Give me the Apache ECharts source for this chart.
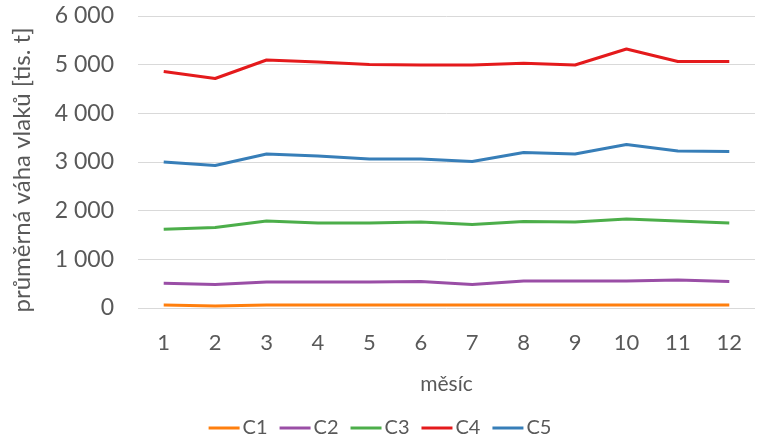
<!DOCTYPE html>
<html>
<head>
<meta charset="utf-8">
<script src="https://cdn.jsdelivr.net/npm/echarts@6/dist/echarts.min.js"></script>
<style>
  html, body { margin: 0; padding: 0; background: #fff; }
  #chart { width: 760px; height: 440px; }
</style>
</head>
<body>
<div id="chart"></div>
<script>
const months = ['1', '2', '3', '4', '5', '6', '7', '8', '9', '10', '11', '12'];
const c1 = [62, 41, 60, 60, 60, 60, 60, 60, 60, 60, 62, 62];
const c2 = [507, 483, 534, 534, 534, 545, 483, 555, 555, 555, 575, 545];
const c3 = [1620, 1654, 1788, 1746, 1746, 1767, 1716, 1777, 1767, 1829, 1788, 1746];
const c4 = [4860, 4716, 5096, 5055, 5003, 4993, 4993, 5027, 4993, 5322, 5065, 5065];
const c5 = [3000, 2928, 3164, 3123, 3062, 3062, 3010, 3195, 3164, 3359, 3226, 3215];

const font = 'Lato, "Open Sans", sans-serif';
const textColor = '#595959';

const chart = echarts.init(document.getElementById('chart'));

function line(name, data, color) {
  return {
    name: name,
    type: 'line',
    data: data,
    symbol: 'none',
    lineStyle: { width: 3, color: color },
    itemStyle: { color: color }
  };
}

const option = {
  animation: false,
  textStyle: { fontFamily: font },
  grid: { left: 138, right: 5, top: 16, bottom: 132 },
  legend: {
    bottom: -3,
    left: 'center',
    itemWidth: 31,
    itemHeight: 3,
    itemGap: 12,
    icon: 'rect',
    textStyle: { fontSize: 20, color: textColor, fontFamily: font, padding: [0, 0, 0, -2] },
    data: ['C1', 'C2', 'C3', 'C4', 'C5']
  },
  xAxis: {
    type: 'category',
    data: months,
    name: 'měsíc',
    nameLocation: 'middle',
    nameGap: 66,
    nameTextStyle: { fontSize: 21, color: textColor, fontFamily: font },
    axisLine: { show: false },
    axisTick: { show: false },
    axisLabel: { fontSize: 22, color: textColor, margin: 24 }
  },
  yAxis: {
    type: 'value',
    min: 0,
    max: 6000,
    interval: 1000,
    name: 'průměrná váha vlaků [tis. t]',
    nameLocation: 'middle',
    nameGap: 104,
    nameTextStyle: { fontSize: 24, color: textColor, fontFamily: font, padding: [0, 16, 0, 0] },
    axisLabel: {
      fontSize: 23,
      color: textColor,
      margin: 24,
      formatter: function (v) {
        return String(v).replace(/\B(?=(\d{3})+(?!\d))/g, ' ');
      }
    },
    splitLine: { lineStyle: { color: '#d9d9d9', width: 1 } }
  },
  series: [
    line('C1', c1, '#ff7f0e'),
    line('C2', c2, '#9a4ea6'),
    line('C3', c3, '#4cae4a'),
    line('C4', c4, '#e41a1c'),
    line('C5', c5, '#377eb8')
  ]
};

chart.setOption(option);
</script>
</body>
</html>
